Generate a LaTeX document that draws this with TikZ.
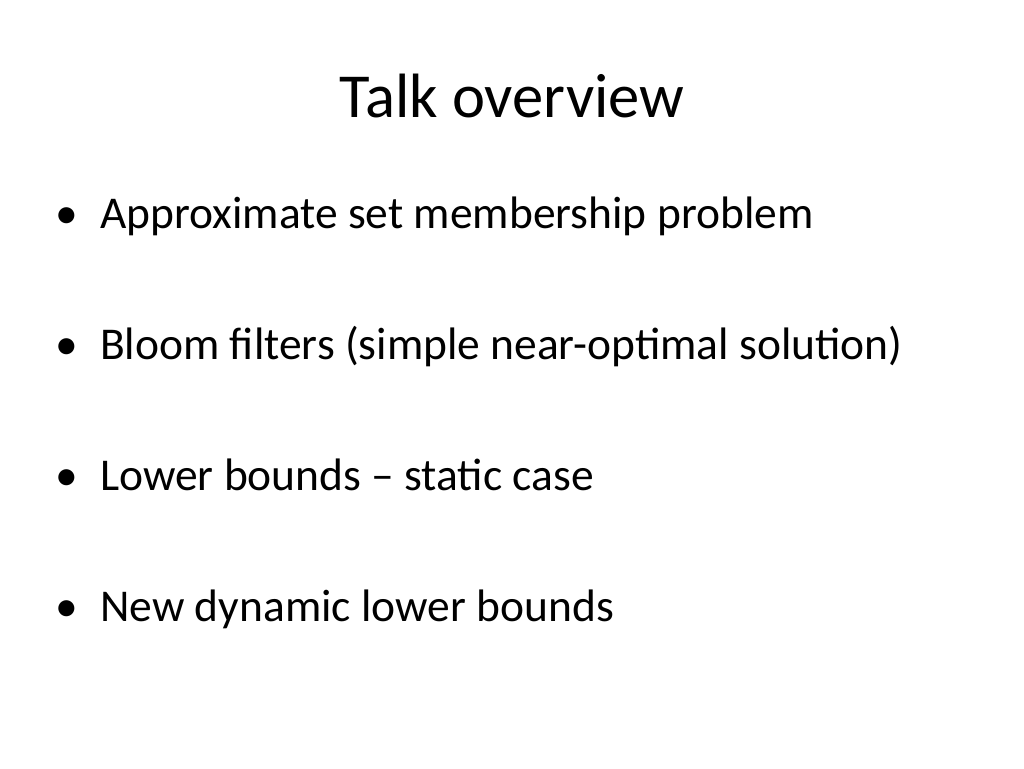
\documentclass[tikz,border=0pt]{standalone}
\usepackage{fontspec}
\setmainfont{Carlito}
\tikzset{
  itemtext/.style={anchor=base west,inner sep=0pt,font=\fontsize{45.5}{50}\selectfont},
  dot/.style={anchor=base east,inner sep=0pt,font=\fontsize{45.5}{50}\selectfont}
}
\begin{document}
\begin{tikzpicture}[x=1pt,y=-1pt]
    \useasboundingbox[fill=white] (0,0) rectangle (1024,768);
    \node[anchor=base,inner sep=0pt,font=\fontsize{62.6}{70}\selectfont] (title) at (512,117) {Talk overview};
    % bullet items
    \foreach \y/\txt [count=\i] in {228/Approximate set membership problem,
        359/Bloom filters (simple near-optimal solution),
        490/Lower bounds -- static case,
        621/New dynamic lower bounds}{
      \node[dot] (b\i) at (78,\y) {\textbullet};
      \node[itemtext] (t\i) at (100,\y) {\txt};
    }
\end{tikzpicture}
\end{document}
